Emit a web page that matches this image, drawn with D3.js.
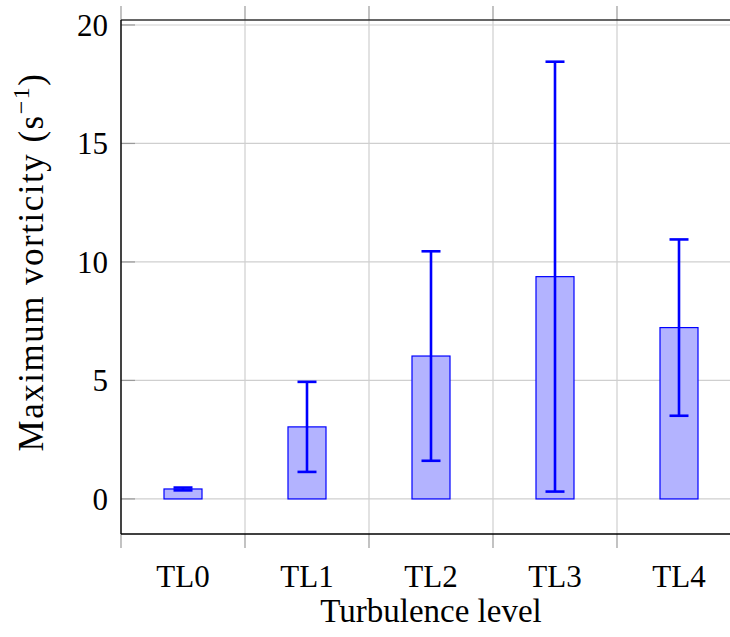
<!DOCTYPE html>
<html>
<head>
<meta charset="utf-8">
<script src="https://cdn.jsdelivr.net/npm/d3@7"></script>
<style>
  body { margin: 0; background: #fff; }
  svg text { font-family: "Liberation Serif", "DejaVu Serif", serif; fill: #000; }
</style>
</head>
<body>
<svg id="chart" width="730" height="637"></svg>
<script>
// Mean maximum vorticity per turbulence level, with symmetric error
const categories = ["TL0", "TL1", "TL2", "TL3", "TL4"];
const meanValues = [0.42, 3.04, 6.03, 9.38, 7.23];
const errorValues = [0.06, 1.9, 4.42, 9.07, 3.72];
const yTicks = [0, 5, 10, 15, 20];

const svg = d3.select("#chart");
const plotLeft = 121, plotRight = 741, plotTop = 20, plotBottom = 534;

const x = d3.scaleLinear().domain([-0.5, categories.length - 0.5]).range([plotLeft, plotRight]);
const y = d3.scaleLinear().domain([-1.48, 20.21]).range([plotBottom, plotTop]);

const gridColor = "#cfcfcf";
const tickColor = "#9a9a9a";

// vertical grid lines between categories, continuing outward as ticks
const xGrid = d3.range(0, categories.length + 1).map(i => i - 0.5);
svg.append("g").selectAll("line").data(xGrid).join("line")
  .attr("x1", d => x(d)).attr("x2", d => x(d))
  .attr("y1", plotTop).attr("y2", plotBottom)
  .attr("stroke", gridColor).attr("stroke-width", 1.2);
svg.append("g").selectAll("line").data(xGrid).join("line")
  .attr("x1", d => x(d)).attr("x2", d => x(d))
  .attr("y1", plotTop - 14).attr("y2", plotTop)
  .attr("stroke", tickColor).attr("stroke-width", 1.2);
svg.append("g").selectAll("line").data(xGrid).join("line")
  .attr("x1", d => x(d)).attr("x2", d => x(d))
  .attr("y1", plotBottom).attr("y2", plotBottom + 14)
  .attr("stroke", tickColor).attr("stroke-width", 1.2);

// horizontal grid lines
svg.append("g").selectAll("line").data(yTicks).join("line")
  .attr("x1", plotLeft).attr("x2", plotRight)
  .attr("y1", d => y(d)).attr("y2", d => y(d))
  .attr("stroke", gridColor).attr("stroke-width", 1.2);
svg.append("g").selectAll("line").data(yTicks).join("line")
  .attr("x1", plotLeft).attr("x2", plotLeft + 14)
  .attr("y1", d => y(d)).attr("y2", d => y(d))
  .attr("stroke", tickColor).attr("stroke-width", 1.2);

// y tick labels
svg.append("g").selectAll("text").data(yTicks).join("text")
  .attr("x", plotLeft - 13).attr("y", d => y(d))
  .attr("dy", "0.35em").attr("text-anchor", "end")
  .attr("font-size", 31)
  .text(d => d);

// bars
const barWidth = 38;
svg.append("g").selectAll("rect").data(meanValues).join("rect")
  .attr("x", (d, i) => x(i) - barWidth / 2)
  .attr("width", barWidth)
  .attr("y", d => y(d))
  .attr("height", d => y(0) - y(d))
  .attr("fill", "#b3b3ff").attr("stroke", "#0000ff").attr("stroke-width", 1.2);

// error bars
const cap = 19;
const eb = svg.append("g").attr("stroke", "#0000ff").attr("stroke-width", 2.6);
meanValues.forEach((m, i) => {
  const e = errorValues[i];
  const cx = x(i);
  eb.append("line").attr("x1", cx).attr("x2", cx).attr("y1", y(m + e)).attr("y2", y(m - e));
  eb.append("line").attr("x1", cx - cap / 2).attr("x2", cx + cap / 2).attr("y1", y(m + e)).attr("y2", y(m + e));
  eb.append("line").attr("x1", cx - cap / 2).attr("x2", cx + cap / 2).attr("y1", y(m - e)).attr("y2", y(m - e));
});

// axis frame
const frame = svg.append("g").attr("stroke", "#000").attr("stroke-width", 1.4).attr("fill", "none");
frame.append("line").attr("x1", plotLeft).attr("x2", plotRight).attr("y1", plotTop).attr("y2", plotTop).attr("stroke", "#333");
frame.append("line").attr("x1", plotLeft).attr("x2", plotRight).attr("y1", plotBottom).attr("y2", plotBottom);
frame.append("line").attr("x1", plotLeft).attr("x2", plotLeft).attr("y1", plotTop).attr("y2", plotBottom);

// category labels
svg.append("g").selectAll("text").data(categories).join("text")
  .attr("x", (d, i) => x(i)).attr("y", 576)
  .attr("dy", "0.35em").attr("text-anchor", "middle")
  .attr("font-size", 31)
  .text(d => d);

// axis titles
svg.append("text")
  .attr("x", (plotLeft + plotRight) / 2).attr("y", 622)
  .attr("text-anchor", "middle").attr("font-size", 33)
  .text("Turbulence level");

const yl = svg.append("text")
  .attr("transform", `translate(43, 262) rotate(-90)`)
  .attr("text-anchor", "middle").attr("font-size", 35)
  .attr("letter-spacing", 1.5);
yl.append("tspan").text("Maximum vorticity (s");
yl.append("tspan").attr("font-size", 24).attr("dy", -14).text("−1");
yl.append("tspan").attr("dy", 14).text(")");
</script>
</body>
</html>
